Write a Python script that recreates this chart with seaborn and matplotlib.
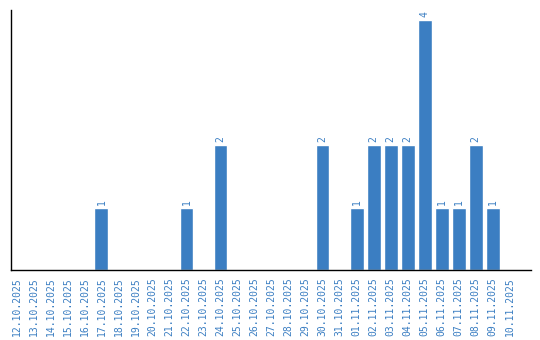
import matplotlib
matplotlib.use("Agg")
import matplotlib.pyplot as plt
import seaborn as sns
import pandas as pd

dates = ["12.10.2025", "13.10.2025", "14.10.2025", "15.10.2025", "16.10.2025",
         "17.10.2025", "18.10.2025", "19.10.2025", "20.10.2025", "21.10.2025",
         "22.10.2025", "23.10.2025", "24.10.2025", "25.10.2025", "26.10.2025",
         "27.10.2025", "28.10.2025", "29.10.2025", "30.10.2025", "31.10.2025",
         "01.11.2025", "02.11.2025", "03.11.2025", "04.11.2025", "05.11.2025",
         "06.11.2025", "07.11.2025", "08.11.2025", "09.11.2025", "10.11.2025"]
counts = [0, 0, 0, 0, 0, 1, 0, 0, 0, 0, 1, 0, 2, 0, 0, 0, 0, 0, 2, 0,
          1, 2, 2, 2, 4, 1, 1, 2, 1, 0]

BLUE = "#3b7ec2"
sns.set_style("white")
plt.rcParams["font.family"] = ["DejaVu Sans Mono", "DejaVu Sans"]

df = pd.DataFrame({"date": dates, "count": counts})
fig = plt.figure(figsize=(5.4, 3.4), dpi=100)
ax = fig.add_axes([11/540, 70/340, 520/540, 260/340])
sns.barplot(data=df, x="date", y="count", order=dates, color=BLUE,
            saturation=1, width=0.82, ax=ax)
ax.bar_label(ax.containers[0], labels=[str(v) if v else "" for v in counts],
             rotation=90, color=BLUE, fontsize=7, padding=2)
ax.set_xlim(-0.32, 30.26)
ax.set_ylim(0, 4.16)
ax.set_xlabel("")
ax.set_ylabel("")
ax.set_yticks([])
ax.tick_params(axis="x", length=0, pad=5, labelcolor=BLUE, labelsize=7,
               labelrotation=90)
for s in ["top", "right"]:
    ax.spines[s].set_visible(False)
for s in ["left", "bottom"]:
    ax.spines[s].set_color("black")
    ax.spines[s].set_linewidth(1)
fig.savefig("out.png", dpi=100)
